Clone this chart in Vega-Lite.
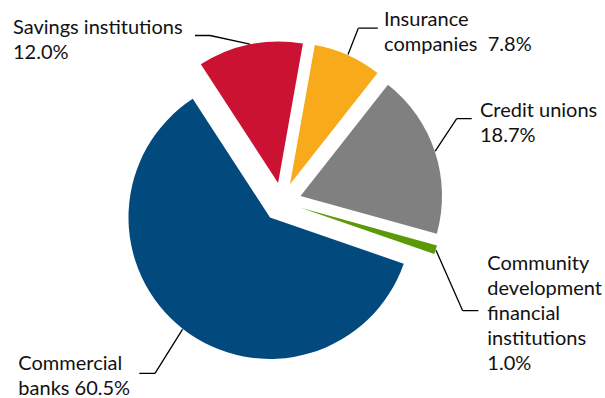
{
  "$schema": "https://vega.github.io/schema/vega-lite/v6.json",
  "width": 564,
  "height": 392,
  "autosize": {"type": "none"},
  "padding": {"left": 0, "top": 6, "right": 41, "bottom": 0},
  "background": "white",
  "config": {"view": {"stroke": null}, "text": {"font": "Lato", "fontSize": 20, "color": "#111111"}},
  "data": {
    "values": [
      {"institution": "Commercial banks", "share": 60.5, "label": "Commercial\nbanks 60.5%"},
      {"institution": "Savings institutions", "share": 12.0, "label": "Savings institutions\n12.0%"},
      {"institution": "Insurance companies", "share": 7.8, "label": "Insurance\ncompanies\u00a0 7.8%"},
      {"institution": "Credit unions", "share": 18.7, "label": "Credit unions\n18.7%"},
      {"institution": "Community development financial institutions", "share": 1.0, "label": "Community\ndevelopment\nfinancial\ninstitutions\n1.0%"}
    ]
  },
  "transform": [
    {"stack": "share", "groupby": [], "sort": [{"field": "institution", "order": "descending"}], "as": ["s0", "s1"]}
  ],
  "layer": [
    {
      "transform": [{"filter": "datum.institution === 'Commercial banks'"}],
      "layer": [
        {"mark": {"type": "arc", "radius": 141.5, "xOffset": -12.0, "yOffset": 15.4},
         "encoding": {"theta": {"field": "s0", "type": "quantitative", "stack": null, "scale": {"domain": [0, 100], "range": [5.70548, 11.98867]}}, "theta2": {"field": "s1"},
           "color": {"field": "institution", "type": "nominal", "legend": null, "scale": {"domain": ["Commercial banks", "Savings institutions", "Insurance companies", "Credit unions", "Community development financial institutions"], "range": ["#02497D", "#CC1233", "#F8AA1B", "#808080", "#5A9A08"]}}}},
        {"mark": {"type": "arc", "theta": 0.5586, "theta2": 0.5586, "radius": 51.9, "xOffset": -127, "yOffset": 171.3, "fill": "transparent", "stroke": "black", "strokeWidth": 1.3}, "encoding": {}},
        {"mark": {"type": "arc", "theta": 4.7124, "theta2": 4.7124, "radius": 15.7, "xOffset": -127, "yOffset": 171.3, "fill": "transparent", "stroke": "black", "strokeWidth": 1.3}, "encoding": {}},
        {"mark": {"type": "text", "align": "left", "baseline": "alphabetic", "lineBreak": "\n", "lineHeight": 25, "radius": 170, "dx": -424.3, "dy": 112.4},
         "encoding": {"theta": {"field": "s0", "type": "quantitative", "stack": null, "scale": {"domain": [0, 100], "range": [5.70548, 11.98867]}}, "text": {"field": "label"}}}
      ]
    },
    {
      "transform": [{"filter": "datum.institution === 'Savings institutions'"}],
      "layer": [
        {"mark": {"type": "arc", "radius": 141.5, "xOffset": -3.9, "yOffset": -19.1},
         "encoding": {"theta": {"field": "s0", "type": "quantitative", "stack": null, "scale": {"domain": [0, 100], "range": [5.70548, 11.98867]}}, "theta2": {"field": "s1"},
           "color": {"field": "institution", "type": "nominal", "legend": null}}},
        {"mark": {"type": "arc", "theta": 1.7856, "theta2": 1.7856, "radius": 40.8, "xOffset": -72, "yOffset": -166.5, "fill": "transparent", "stroke": "black", "strokeWidth": 1.3}, "encoding": {}},
        {"mark": {"type": "arc", "theta": 4.7124, "theta2": 4.7124, "radius": 15, "xOffset": -72, "yOffset": -166.5, "fill": "transparent", "stroke": "black", "strokeWidth": 1.3}, "encoding": {}},
        {"mark": {"type": "text", "align": "left", "baseline": "alphabetic", "lineBreak": "\n", "lineHeight": 25, "radius": 170, "dx": -176.2, "dy": -25.6},
         "encoding": {"theta": {"field": "s0", "type": "quantitative", "stack": null}, "text": {"field": "label"}}}
      ]
    },
    {
      "transform": [{"filter": "datum.institution === 'Insurance companies'"}],
      "layer": [
        {"mark": {"type": "arc", "radius": 141.5, "xOffset": 8.0, "yOffset": -17.8},
         "encoding": {"theta": {"field": "s0", "type": "quantitative", "stack": null}, "theta2": {"field": "s1"},
           "color": {"field": "institution", "type": "nominal", "legend": null}}},
        {"mark": {"type": "arc", "theta": 3.515, "theta2": 3.515, "radius": 28.2, "xOffset": 76.3, "yOffset": -173.8, "fill": "transparent", "stroke": "black", "strokeWidth": 1.3}, "encoding": {}},
        {"mark": {"type": "arc", "theta": 1.5708, "theta2": 1.5708, "radius": 19.5, "xOffset": 76.3, "yOffset": -173.8, "fill": "transparent", "stroke": "black", "strokeWidth": 1.3}, "encoding": {}},
        {"mark": {"type": "text", "align": "left", "baseline": "alphabetic", "lineBreak": "\n", "lineHeight": 25, "radius": 170, "dx": 72.2, "dy": -8.6},
         "encoding": {"theta": {"field": "s0", "type": "quantitative", "stack": null}, "text": {"field": "label"}}}
      ]
    },
    {
      "transform": [{"filter": "datum.institution === 'Credit unions'"}],
      "layer": [
        {"mark": {"type": "arc", "radius": 141.5, "xOffset": 18.5, "yOffset": -6.1},
         "encoding": {"theta": {"field": "s0", "type": "quantitative", "stack": null}, "theta2": {"field": "s1"},
           "color": {"field": "institution", "type": "nominal", "legend": null}}},
        {"mark": {"type": "arc", "theta": 3.726, "theta2": 3.726, "radius": 39, "xOffset": 174.7, "yOffset": -83.3, "fill": "transparent", "stroke": "black", "strokeWidth": 1.3}, "encoding": {}},
        {"mark": {"type": "arc", "theta": 1.5708, "theta2": 1.5708, "radius": 15, "xOffset": 174.7, "yOffset": -83.3, "fill": "transparent", "stroke": "black", "strokeWidth": 1.3}, "encoding": {}},
        {"mark": {"type": "text", "align": "left", "baseline": "alphabetic", "lineBreak": "\n", "lineHeight": 25, "radius": 170, "dx": 92.9, "dy": 48.9},
         "encoding": {"theta": {"field": "s0", "type": "quantitative", "stack": null}, "text": {"field": "label"}}}
      ]
    },
    {
      "transform": [{"filter": "datum.institution === 'Community development financial institutions'"}],
      "layer": [
        {"mark": {"type": "arc", "radius": 141.5, "xOffset": 18.6, "yOffset": 5.8},
         "encoding": {"theta": {"field": "s0", "type": "quantitative", "stack": null}, "theta2": {"field": "s1"},
           "color": {"field": "institution", "type": "nominal", "legend": null}}},
        {"mark": {"type": "arc", "theta": 5.867, "theta2": 5.867, "radius": 66, "xOffset": 180.7, "yOffset": 108.7, "fill": "transparent", "stroke": "black", "strokeWidth": 1.3}, "encoding": {}},
        {"mark": {"type": "arc", "theta": 1.5708, "theta2": 1.5708, "radius": 15.6, "xOffset": 180.7, "yOffset": 108.7, "fill": "transparent", "stroke": "black", "strokeWidth": 1.3}, "encoding": {}},
        {"mark": {"type": "text", "align": "left", "baseline": "alphabetic", "lineBreak": "\n", "lineHeight": 25, "radius": 170, "dx": 41.5, "dy": 22.6},
         "encoding": {"theta": {"field": "s0", "type": "quantitative", "stack": null}, "text": {"field": "label"}}}
      ]
    }
  ]
}
